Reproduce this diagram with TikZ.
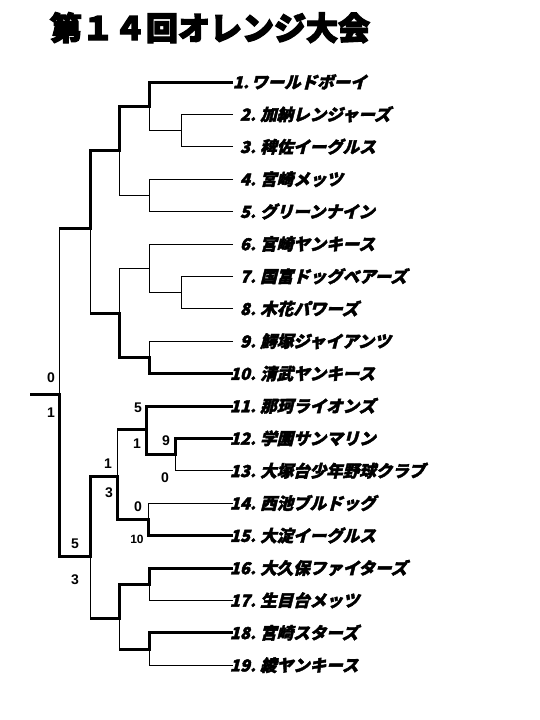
\documentclass[tikz,border=0pt]{standalone}
\usepackage{fontspec}
\newfontfamily\jpfont{Noto Sans CJK JP}[FakeSlant=0.25,FakeBold=4.5,BoldFeatures={FakeSlant=0.25,FakeBold=2.5}]
\newfontfamily\jptitle{Noto Sans CJK JP}[FakeBold=7,BoldFeatures={FakeBold=4}]
\newfontfamily\scorefont{Liberation Sans}
\tikzset{
  win/.style={line width=3pt},
  lose/.style={line width=1pt},
  teamname/.style={font=\jpfont\bfseries\fontsize{16.5}{16.5}\selectfont, anchor=west, inner sep=0pt, text height=14.5pt, text depth=2pt},
  teamnum/.style={font=\jpfont\bfseries\fontsize{16.5}{16.5}\selectfont, anchor=east, inner sep=0pt, text height=14.5pt, text depth=2pt},
  score/.style={font=\scorefont\bfseries\fontsize{14}{14}\selectfont, inner sep=0pt, text height=10pt, text depth=0pt},
  titlestyle/.style={font=\jptitle\bfseries\fontsize{32}{32}\selectfont, inner sep=0pt, text height=28pt, text depth=4pt}
}
\begin{document}
\begin{tikzpicture}[x=1pt,y=-1pt]
\useasboundingbox (0,0) rectangle (540,720);
\fill[white] (0,0) rectangle (540,720);

\node[titlestyle] (title) at (210,28) {第１４回オレンジ大会};

% leaf ends
\foreach \i/\y in {1/82,2/114.4,3/146.8,4/179.2,5/211.6,6/244,7/276.4,8/308.8,9/341.2,10/373.6,11/406,12/438.4,13/470.8,14/503.2,15/535.6,16/568,17/600.4,18/632.8,19/665.2}
  \coordinate (e\i) at (233,\y);

% team labels
\node[teamnum] (num1) at (249,82) {1.};
\node[teamname] (t1) at (251,82) {ワールドボーイ};
\foreach \i/\y/\name in {2/114.4/加納レンジャーズ,3/146.8/稗佐イーグルス,4/179.2/宮崎メッツ,5/211.6/グリーンナイン,6/244/宮崎ヤンキース,7/276.4/国富ドッグベアーズ,8/308.8/木花パワーズ,9/341.2/鰐塚ジャイアンツ,10/373.6/清武ヤンキース,11/406/那珂ライオンズ,12/438.4/学園サンマリン,13/470.8/大塚台少年野球クラブ,14/503.2/西池ブルドッグ,15/535.6/大淀イーグルス,16/568/大久保ファイターズ,17/600.4/生目台メッツ,18/632.8/宮崎スターズ,19/665.2/綾ヤンキース}{
  \node[teamnum] (num\i) at (256,\y) {\i.};
  \node[teamname] (t\i) at (260,\y) {\name};
}

% join points
\coordinate (a23) at (181,130.6);
\coordinate (a123) at (149,106.3);
\coordinate (a45) at (149,195.4);
\coordinate (a15) at (119,150);
\coordinate (a78) at (181,292.6);
\coordinate (a68) at (149,268.3);
\coordinate (a910) at (149,357.4);
\coordinate (a610) at (119,313.5);
\coordinate (aTop) at (90,228);
\coordinate (a1213) at (175,454.6);
\coordinate (a1113) at (146,429);
\coordinate (a1415) at (148,519.4);
\coordinate (a1115) at (117,476);
\coordinate (a1617) at (149,584.2);
\coordinate (a1819) at (149,649);
\coordinate (a1619) at (119,618);
\coordinate (aBot) at (90,556);
\coordinate (root) at (59,394);
\coordinate (rootEnd) at (30,394);

% thin lines (top half)
\draw[lose] (e2) -| (a23);
\draw[lose] (e3) -| (a23);
\draw[lose] (a123) |- (a23);
\draw[lose] (e4) -| (a45);
\draw[lose] (e5) -| (a45);
\draw[lose] (a15) |- (a45);
\draw[lose] (e6) -| (a68);
\draw[lose] (e7) -| (a78);
\draw[lose] (e8) -| (a78);
\draw[lose] (a68) |- (a78);
\draw[lose] (a610) |- (a68);
\draw[lose] (e9) -| (a910);
\draw[lose] (aTop) -- (aTop |- a610);
\draw[lose] (aTop -| root) -- (root);
% thin lines (bottom half)
\draw[lose] (e13) -| (a1213);
\draw[lose] (a1113 -| a1115) -- (a1115);
\draw[lose] (e14) -| (a1415);
\draw[lose] (e17) -| (a1617);
\draw[lose] (e19) -| (a1819);
\draw[lose] (a1819 -| a1619) -- (a1619);
\draw[lose] (aBot) -- (aBot |- a1619);

% winning paths
\draw[win] (e1) -| (a123) -| (a15) -| (aTop) -- (aTop -| root);
\draw[win] (e10) -| (a910) -| (a610) -- (a610 -| aTop);
\draw[win] (e11) -| (a1113) -- (a1113 -| a1115);
\draw[win] (e12) -| (a1213) -| (a1113);
\draw[win] (e15) -| (a1415) -| (a1115) -| (aBot) -| (root) -- (rootEnd);
\draw[win] (e16) -| (a1617) -| (a1619) -- (a1619 -| aBot);
\draw[win] (e18) -| (a1819) -- (a1819 -| a1619);

% scores
\node[score] (s0a) at (51,377) {0};
\node[score] (s0b) at (51,412) {1};
\node[score] (s11) at (138,407) {5};
\node[score] (s1213) at (137,443) {1};
\node[score] (s12) at (166,440) {9};
\node[score] (s13) at (165,477) {0};
\node[score] (s1113) at (108,463) {1};
\node[score] (s1415) at (109,492) {3};
\node[score] (s14) at (138,506) {0};
\node[score,font=\scorefont\bfseries\fontsize{12}{12}\selectfont] (s15) at (137,538) {10};
\node[score] (sTopB) at (75,543) {5};
\node[score] (sBotB) at (75,579) {3};
\end{tikzpicture}
\end{document}
